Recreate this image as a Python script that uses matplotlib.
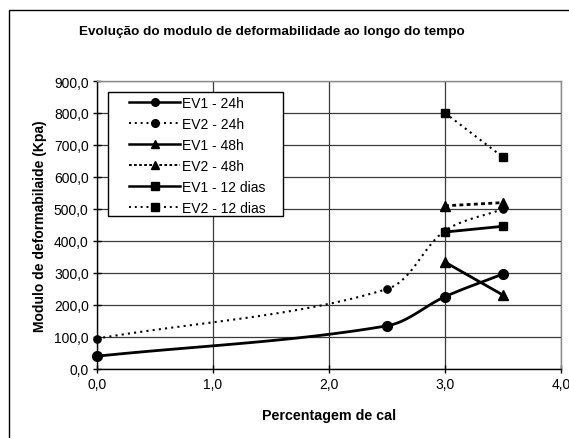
import numpy as np
import matplotlib
matplotlib.use("Agg")
import matplotlib.pyplot as plt
from matplotlib.patches import Rectangle
from matplotlib.ticker import FixedLocator, FuncFormatter

plt.rcParams['font.family'] = ['Liberation Sans', 'DejaVu Sans']

# Lime percentage (x) and deformability modulus in kPa (y) for each series
x_24h = [0.0, 2.5, 3.0, 3.5]
ev1_24h = [40, 135, 226, 297]
ev2_24h = [95, 250, 432, 500]

x_late = [3.0, 3.5]
ev1_48h = [334, 231]
ev2_48h = [510, 520]
ev1_12d = [428, 446]
ev2_12d = [800, 662]

series_labels = ["EV1 - 24h", "EV2 - 24h", "EV1 - 48h", "EV2 - 48h",
                 "EV1 - 12 dias", "EV2 - 12 dias"]

title = "Evolução do modulo de deformabilidade ao longo do tempo"
xlabel = "Percentagem de cal"
ylabel = "Modulo de deformabilaide (Kpa)"
x_ticks = [0, 1, 2, 3, 4]
y_ticks = list(range(0, 901, 100))

XMAX, YMAX = 4, 900
AX_W, AX_H = 464, 288  # plot area size in pixels


def smooth(xs, ys, n=40):
    """Smoothed line made of cubic Bezier segments; tangents follow the
    neighbouring chord, scaled by relative segment lengths on screen."""
    p = np.column_stack([np.asarray(xs, float) / XMAX * AX_W,
                         np.asarray(ys, float) / YMAX * AX_H])
    if len(p) < 3:
        return xs, ys
    m = len(p)
    d = np.linalg.norm(np.diff(p, axis=0), axis=1)
    t = np.linspace(0, 1, n)[:, None]
    out = []
    for i in range(m - 1):
        p1, p2 = p[i], p[i + 1]
        d12 = d[i]
        if i > 0:
            c1 = p1 + (p2 - p[i - 1]) * d12 / (d[i - 1] + d12) / 3.0
        else:
            c1 = p1 + (p2 - p1) / 3.0
        if i + 2 < m:
            c2 = p2 - (p[i + 2] - p1) * d12 / (d12 + d[i + 1]) / 3.0
        else:
            c2 = p2 - (p2 - p1) / 3.0
        seg = ((1 - t) ** 3) * p1 + 3 * ((1 - t) ** 2) * t * c1 \
            + 3 * (1 - t) * t ** 2 * c2 + t ** 3 * p2
        out.append(seg if i == 0 else seg[1:])
    out = np.vstack(out)
    return out[:, 0] / AX_W * XMAX, out[:, 1] / AX_H * YMAX


fig = plt.figure(figsize=(5.69, 4.39), dpi=100)
ax = fig.add_axes([97 / 569, 69 / 439, AX_W / 569, AX_H / 439])

dot_thin = (0, (1, 2))
dot_bold = (0, (1.4, 1.2))

specs = [
    (x_24h, ev1_24h, '-', 2.0, 'o', 7.0, True),
    (x_24h, ev2_24h, dot_thin, 1.5, 'o', 5.2, True),
    (x_late, ev1_48h, '-', 2.0, '^', 7.0, False),
    (x_late, ev2_48h, dot_bold, 2.0, '^', 7.0, False),
    (x_late, ev1_12d, '-', 2.0, 's', 5.5, False),
    (x_late, ev2_12d, dot_thin, 1.5, 's', 5.5, False),
]

handles = []
for (xs, ys, ls, lw, mk, ms, sm), lab in zip(specs, series_labels):
    sx, sy = smooth(xs, ys) if sm else (xs, ys)
    ax.plot(sx, sy, color='black', linestyle=ls, linewidth=lw, zorder=3,
            solid_capstyle='butt', dash_capstyle='butt')
    ax.plot(xs, ys, linestyle='none', marker=mk, markersize=ms,
            color='black', zorder=4, clip_on=False)
    h, = ax.plot([], [], color='black', linestyle=ls,
                 linewidth=1.8 if ls == '-' else 1.4,
                 marker=mk, markersize=5.5)
    handles.append(h)

ax.set_xlim(0, XMAX)
ax.set_ylim(0, YMAX)
ax.xaxis.set_major_locator(FixedLocator(x_ticks))
ax.yaxis.set_major_locator(FixedLocator(y_ticks))
fmt = FuncFormatter(lambda v, _: f"{v:.1f}".replace('.', ','))
ax.xaxis.set_major_formatter(fmt)
ax.yaxis.set_major_formatter(fmt)
ax.tick_params(direction='inout', length=6, width=1, labelsize=10,
               colors='black', pad=3)

ax.grid(True, color='#3a3a3a', linewidth=0.9, zorder=1)
ax.set_axisbelow(True)
for side in ('top', 'right'):
    ax.spines[side].set_color('#8a8a8a')
    ax.spines[side].set_linewidth(1.0)
for side in ('left', 'bottom'):
    ax.spines[side].set_color('black')
    ax.spines[side].set_linewidth(1.0)

ax.set_xlabel(xlabel, fontsize=10.3, fontweight='bold', labelpad=12)
ax.set_ylabel(ylabel, fontsize=10, fontweight='bold', labelpad=5)
fig.text(0.5 * (80 + 463) / 569, 1 - 32 / 439, title, ha='center',
         va='center', fontsize=9.7, fontweight='bold')

# Legend box with wide inner margins
ax.add_patch(Rectangle((11 / AX_W, 153 / AX_H), 175 / AX_W, 124 / AX_H,
                       transform=ax.transAxes, facecolor='white',
                       edgecolor='black', linewidth=1.0, zorder=5))
leg = ax.legend(handles, series_labels, loc='upper left',
                bbox_to_anchor=(32 / AX_W, 273 / AX_H), fontsize=10,
                frameon=False, handlelength=3.7, handletextpad=0.1,
                labelspacing=0.5, borderpad=0, borderaxespad=0)
leg.set_zorder(6)

# Outer chart frame
fig.add_artist(Rectangle((9 / 569, -0.05), 1.2, 1 - 11 / 439 + 0.05,
                         transform=fig.transFigure, fill=False,
                         edgecolor='black', linewidth=1.0, clip_on=False))

fig.savefig("out.png", dpi=100)
